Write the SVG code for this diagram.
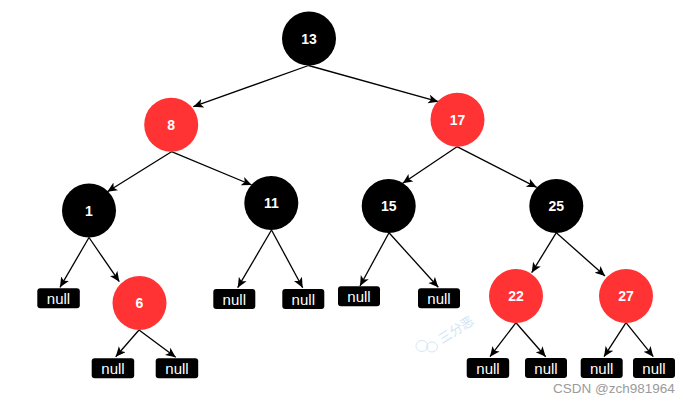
<svg xmlns="http://www.w3.org/2000/svg" width="698" height="404" viewBox="0 0 698 404">
<style>
.blk{fill:#000000}
.red{fill:#ff3333}
.num{font-family:"Liberation Sans",Arial,sans-serif;font-size:14px;font-weight:bold;fill:#ffffff;text-anchor:middle;dominant-baseline:central}
.nul{fill:#000000}
.nt{font-family:"Liberation Sans",Arial,sans-serif;font-size:15px;fill:#ffffff;text-anchor:middle;dominant-baseline:central}
.edge{stroke:#000000;stroke-width:1.3;fill:none;marker-end:url(#arr)}
</style>
<defs>
<marker id="arr" markerUnits="userSpaceOnUse" markerWidth="12" markerHeight="10" refX="10" refY="4.5" orient="auto">
<path d="M0,0 L10,4.5 L0,9 L2.5,4.5 Z" fill="#000000"/>
</marker>
</defs>
<rect width="698" height="404" fill="#ffffff"/>
<g id="connectors">
<line class="edge" x1="308.5" y1="65.5" x2="193.3" y2="106.7"/>
<line class="edge" x1="308.5" y1="65.5" x2="438.3" y2="101.7"/>
<line class="edge" x1="171.5" y1="151.7" x2="107.3" y2="191.7"/>
<line class="edge" x1="171.5" y1="151.7" x2="251.7" y2="185"/>
<line class="edge" x1="457" y1="146.7" x2="402.7" y2="183.3"/>
<line class="edge" x1="457" y1="146.7" x2="536.7" y2="187.3"/>
<line class="edge" x1="89" y1="237.5" x2="60" y2="287.3"/>
<line class="edge" x1="89" y1="237.5" x2="119.3" y2="281.7"/>
<line class="edge" x1="139" y1="330" x2="115.7" y2="356.7"/>
<line class="edge" x1="139" y1="330" x2="175.7" y2="357.3"/>
<line class="edge" x1="271.5" y1="230" x2="237.7" y2="287.7"/>
<line class="edge" x1="271.5" y1="230" x2="302.7" y2="287.7"/>
<line class="edge" x1="389" y1="232.7" x2="360" y2="286"/>
<line class="edge" x1="389" y1="232.7" x2="438.3" y2="287.3"/>
<line class="edge" x1="556.3" y1="232.7" x2="531.7" y2="272.7"/>
<line class="edge" x1="556.3" y1="232.7" x2="605" y2="276"/>
<line class="edge" x1="516" y1="322.7" x2="490" y2="356.7"/>
<line class="edge" x1="516" y1="322.7" x2="545.7" y2="356.7"/>
<line class="edge" x1="626" y1="322.7" x2="604" y2="356.7"/>
<line class="edge" x1="626" y1="322.7" x2="653.3" y2="356.7"/>
</g>
<g id="n13"><circle class="blk" cx="309" cy="38.5" r="27"/><text class="num" x="309" y="38.5">13</text></g>
<g id="n8"><circle class="red" cx="171.2" cy="124.7" r="27"/><text class="num" x="171.2" y="124.7">8</text></g>
<g id="n17"><circle class="red" cx="457.5" cy="119.7" r="27"/><text class="num" x="457.5" y="119.7">17</text></g>
<g id="n1"><circle class="blk" cx="89" cy="210.5" r="27"/><text class="num" x="89" y="210.5">1</text></g>
<g id="n11"><circle class="blk" cx="271.3" cy="203" r="27"/><text class="num" x="271.3" y="203">11</text></g>
<g id="n15"><circle class="blk" cx="388.7" cy="206" r="27"/><text class="num" x="388.7" y="206">15</text></g>
<g id="n25"><circle class="blk" cx="556.3" cy="206" r="27"/><text class="num" x="556.3" y="206">25</text></g>
<g id="n6"><circle class="red" cx="139.5" cy="303" r="27"/><text class="num" x="139.5" y="303">6</text></g>
<g id="n22"><circle class="red" cx="516" cy="296" r="27"/><text class="num" x="516" y="296">22</text></g>
<g id="n27"><circle class="red" cx="626" cy="296" r="27"/><text class="num" x="626" y="296">27</text></g>
<g id="null1"><rect class="nul" x="37.3" y="288.3" width="42.5" height="20" rx="3"/><text class="nt" x="58.5" y="298.3">null</text></g>
<g id="null2"><rect class="nul" x="91.7" y="358.3" width="42.5" height="20" rx="3"/><text class="nt" x="113" y="368.3">null</text></g>
<g id="null3"><rect class="nul" x="155.7" y="358.3" width="42.5" height="20" rx="3"/><text class="nt" x="177" y="368.3">null</text></g>
<g id="null4"><rect class="nul" x="213.3" y="289" width="42" height="20" rx="3"/><text class="nt" x="234.3" y="299">null</text></g>
<g id="null5"><rect class="nul" x="282.3" y="289" width="42" height="20" rx="3"/><text class="nt" x="303.3" y="299">null</text></g>
<g id="null6"><rect class="nul" x="338" y="286.3" width="42" height="20" rx="3"/><text class="nt" x="359" y="296.3">null</text></g>
<g id="null7"><rect class="nul" x="418" y="288.3" width="42" height="20" rx="3"/><text class="nt" x="439" y="298.3">null</text></g>
<g id="null8"><rect class="nul" x="466.7" y="358" width="42.5" height="20" rx="3"/><text class="nt" x="488" y="368">null</text></g>
<g id="null9"><rect class="nul" x="525" y="358" width="42" height="20" rx="3"/><text class="nt" x="546" y="368">null</text></g>
<g id="null10"><rect class="nul" x="580.7" y="358" width="42" height="20" rx="3"/><text class="nt" x="601.7" y="368">null</text></g>
<g id="null11"><rect class="nul" x="633" y="358" width="42" height="20" rx="3"/><text class="nt" x="654" y="368">null</text></g>
<g id="watermark" opacity="0.5">
<ellipse cx="422" cy="346" rx="6" ry="5.5" fill="none" stroke="#9fcbee" stroke-width="0.9"/>
<ellipse cx="432" cy="347" rx="5.5" ry="5" fill="none" stroke="#9fcbee" stroke-width="0.9"/>
<text x="442" y="344" transform="rotate(-32 442 344)" font-family="'Noto Sans CJK SC',sans-serif" font-size="13" fill="#9fcbee">三分恶</text>
</g>
<text x="553" y="393" font-family="'Liberation Sans',Arial,sans-serif" font-size="13.5" fill="#9a9a9a">CSDN @zch981964</text>
</svg>
